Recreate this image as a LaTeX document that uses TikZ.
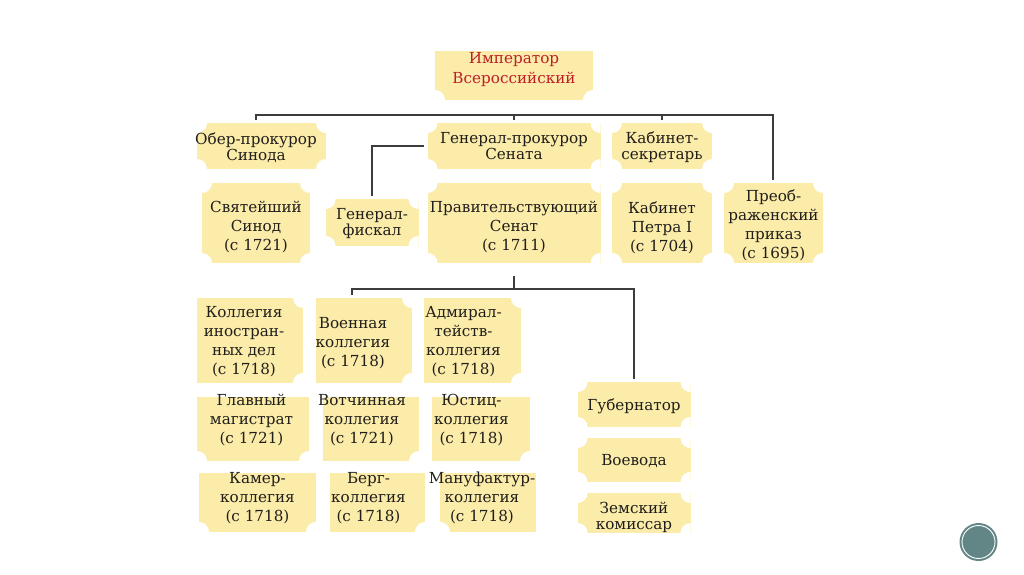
\documentclass[tikz,border=0pt]{standalone}
\usepackage{fontspec}
\setmainfont{DejaVu Serif}
\definecolor{plaquefill}{RGB}{252,236,170}
\definecolor{inktext}{RGB}{32,30,26}
\definecolor{linkgray}{RGB}{60,60,60}
\definecolor{tsarred}{RGB}{190,30,40}
\definecolor{badgeteal}{RGB}{98,134,134}
% text inside a plaque: x offset, y offset, lines
\newcommand{\lines}[3]{\raisebox{\dimexpr#2-5.5pt\relax}[0pt][0pt]{\makebox[0pt]{\hspace*{#1}\hspace*{#1}\begin{tabular}{@{}c@{}}#3\end{tabular}}}}

\begin{document}
\begin{tikzpicture}[
                  x=1pt,y=-1pt,
                  font=\fontsize{15.2}{19}\selectfont,
                  text=inktext,
                  plaque/.style={fill=plaquefill,inner sep=0pt,
                    path picture={\foreach \corner in {#1} {\fill[white] (path picture bounding box.\corner) circle (10pt);}}},
                  plaque/.default={north east,north west,south east,south west},
                  tight/.style={font=\fontsize{15.2}{15.5}\selectfont},
                  link/.style={draw=linkgray,line width=1.8pt,shorten >=3pt,shorten <=3pt}
                ]
                \useasboundingbox (0,0) rectangle (1024,574);

                \node[plaque={south east,south west},minimum width=158pt,minimum height=49pt,text=tsarred,font=\fontsize{15.2}{20}\selectfont] (emperor) at (514,75.5) {\lines{0pt}{7.5pt}{Император\\Всероссийский}};

                \node[plaque,tight,minimum width=129pt,minimum height=46pt] (oberpr) at (261.5,146) {\lines{-5.5pt}{-1pt}{Обер-прокурор\\Синода}};
                \node[plaque,tight,minimum width=173pt,minimum height=46pt] (genpr) at (514,146) {\lines{0pt}{0pt}{Генерал-прокурор\\Сената}};
                \node[plaque,tight,minimum width=100pt,minimum height=46pt] (kabsec) at (662,146) {\lines{0pt}{0pt}{Кабинет-\\секретарь}};

                \node[plaque,minimum width=108pt,minimum height=80pt] (synod) at (256,223) {\lines{0pt}{-3pt}{Святейший\\Синод\\(с 1721)}};
                \node[plaque,tight,minimum width=93pt,minimum height=47pt] (fiskal) at (372,222.5) {\lines{0pt}{0pt}{Генерал-\\фискал}};
                \node[plaque,minimum width=173pt,minimum height=80pt] (senat) at (514,223) {\lines{0pt}{-3pt}{Правительствующий\\Сенат\\(с 1711)}};
                \node[plaque,minimum width=100pt,minimum height=80pt] (kabinet) at (662,223) {\lines{0pt}{-4pt}{Кабинет\\Петра I\\(с 1704)}};
                \node[plaque,minimum width=99pt,minimum height=80pt] (preob) at (773.5,223) {\lines{0pt}{-1pt}{Преоб-\\раженский\\приказ\\(с 1695)}};

                \node[plaque={north east,south east},minimum width=106pt,minimum height=85pt] (inodel) at (250,340.5) {\lines{-6pt}{0pt}{Коллегия\\иностран-\\ных дел\\(с 1718)}};
                \node[plaque={north east,south east},minimum width=96pt,minimum height=85pt] (voen) at (364,340.5) {\lines{-11pt}{-1.5pt}{Военная\\коллегия\\(с 1718)}};
                \node[plaque={north east,south east},minimum width=97pt,minimum height=85pt] (admiral) at (472.5,340.5) {\lines{-9pt}{0pt}{Адмирал-\\тейств-\\коллегия\\(с 1718)}};

                \node[plaque={south east,south west},minimum width=112pt,minimum height=64pt] (magistrat) at (253,429) {\lines{-1.5pt}{10pt}{Главный\\магистрат\\(с 1721)}};
                \node[plaque={south east},minimum width=96pt,minimum height=64pt] (votchina) at (371,429) {\lines{-9pt}{10pt}{Вотчинная\\коллегия\\(с 1721)}};
                \node[plaque={south east},minimum width=98pt,minimum height=64pt] (justiz) at (481,429) {\lines{-9.5pt}{10pt}{Юстиц-\\коллегия\\(с 1718)}};

                \node[plaque={south east,south west},minimum width=117pt,minimum height=59pt] (kamer) at (257.5,502.5) {\lines{0pt}{5.5pt}{Камер-\\коллегия\\(с 1718)}};
                \node[plaque={south east},minimum width=95pt,minimum height=59pt] (berg) at (377.5,502.5) {\lines{-9pt}{5.5pt}{Берг-\\коллегия\\(с 1718)}};
                \node[plaque={south west},minimum width=96pt,minimum height=59pt] (manuf) at (488,502.5) {\lines{-6pt}{5.5pt}{Мануфактур-\\коллегия\\(с 1718)}};

                \node[plaque,minimum width=113pt,minimum height=45pt] (gubern) at (634,404.5) {\lines{0pt}{0pt}{Губернатор}};
                \node[plaque,minimum width=113pt,minimum height=44pt] (voevoda) at (634,460) {\lines{0pt}{0pt}{Воевода}};
                \node[plaque,tight,minimum width=113pt,minimum height=40pt] (zemsky) at (634,513) {\lines{0pt}{-3pt}{Земский\\комиссар}};

                \coordinate (barW) at (256,115);
                \coordinate (barE) at (773,115);
                \coordinate (barS) at (352,289);

                \draw[link] (barW |- oberpr.north) -- (barW) -- (barE) -- (barE |- preob.north);
                \draw[link,shorten >=0pt] (genpr.north) -- (genpr.north |- barW);
                \draw[link,shorten >=0pt] (kabsec.north) -- (kabsec.north |- barW);
                \draw[link] (genpr.west) -| (fiskal.north);
                \draw[link,shorten <=13pt,shorten >=0pt] (senat.south) -- (senat.south |- barS);
                \draw[link] (barS |- voen.north) -- (barS) -| (gubern.north);

                \node[circle,fill=badgeteal,minimum size=38pt,inner sep=0pt] (badge) at (978.5,542) {};
                \draw[white,line width=0.9pt] (badge.center) circle (16.5pt);
                \end{tikzpicture}
\end{document}
